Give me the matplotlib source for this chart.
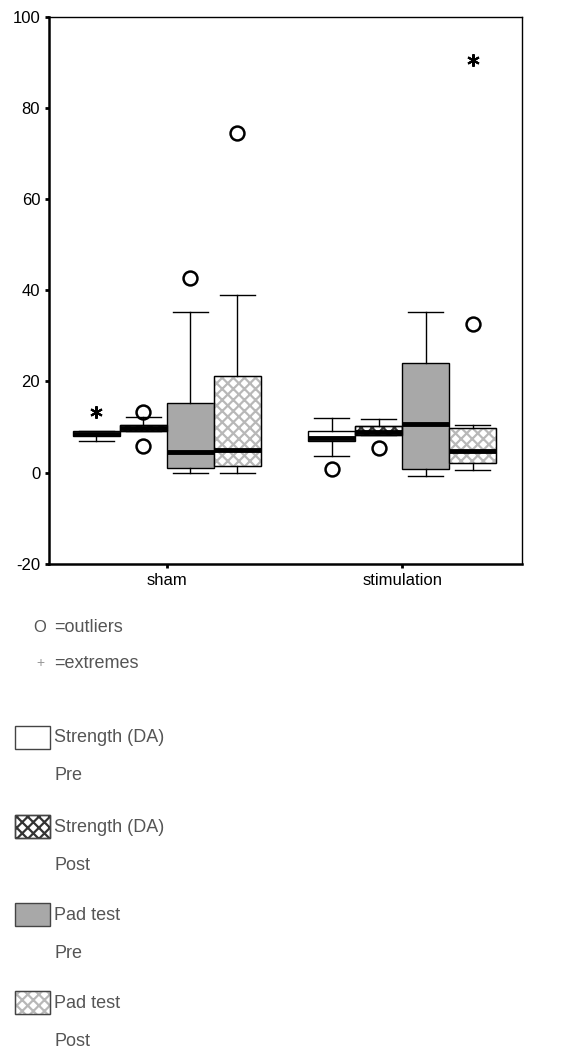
import numpy as np
import matplotlib
matplotlib.use("Agg")
from matplotlib import pyplot as plt
from matplotlib.patches import PathPatch, Rectangle

plt.rcParams['font.family'] = ['Liberation Sans', 'DejaVu Sans']
plt.rcParams['hatch.linewidth'] = 1.6
plt.rcParams['axes.unicode_minus'] = False

groups = ["sham", "stimulation"]
series = ["Strength (DA) Pre", "Strength (DA) Post", "Pad test Pre", "Pad test Post"]

# per group, per series: whislo, q1, med, q3, whishi
sham_stats = [
    [7.0, 8.1, 8.5, 9.1, 9.1],
    [9.1, 9.1, 9.8, 10.5, 12.3],
    [0.0, 1.0, 4.5, 15.3, 35.2],
    [0.0, 1.5, 5.0, 21.1, 38.9],
]
stim_stats = [
    [3.6, 6.9, 7.6, 9.1, 12.0],
    [8.3, 8.3, 9.0, 10.2, 11.8],
    [-0.8, 0.9, 10.7, 24.0, 35.2],
    [0.5, 2.1, 4.7, 9.9, 10.4],
]
sham_outliers = [[], [13.4, 5.8], [42.7], [74.5]]
stim_outliers = [[0.7], [5.5], [], [32.5]]
sham_extremes = [[13.2], [], [], []]
stim_extremes = [[], [], [], [90.6]]

offsets = [-0.3, -0.1, 0.1, 0.3]
width = 0.2

fig = plt.figure(figsize=(5.86, 10.48), dpi=100)
ax = fig.add_axes([0.084, 0.462, 0.807, 0.522])

stats = []
positions = []
extremes_x, extremes_y = [], []
for gi, (gstats, gout, gext) in enumerate([(sham_stats, sham_outliers, sham_extremes),
                                            (stim_stats, stim_outliers, stim_extremes)]):
    for si in range(4):
        lo, q1, med, q3, hi = gstats[si]
        stats.append(dict(whislo=lo, q1=q1, med=med, q3=q3, whishi=hi,
                          fliers=np.array(gout[si]), label=""))
        positions.append(gi + offsets[si])
        for v in gext[si]:
            extremes_x.append(gi + offsets[si])
            extremes_y.append(v)

bp = ax.bxp(stats, positions=positions, widths=width, patch_artist=True,
            capwidths=0.15,
            boxprops=dict(linewidth=1.0, edgecolor='black'),
            medianprops=dict(color='black', linewidth=3.5),
            whiskerprops=dict(color='black', linewidth=1.0),
            capprops=dict(color='black', linewidth=1.0),
            flierprops=dict(marker='o', markersize=10, markerfacecolor='none',
                            markeredgecolor='black', markeredgewidth=1.8))

fills = ['white', 'white', '#a8a8a8', 'white']
hatch_colors = [None, '#333333', None, '#b8b8b8']
for i, box in enumerate(bp['boxes']):
    si = i % 4
    box.set_facecolor(fills[si])
    if hatch_colors[si] is not None:
        box.set_edgecolor(hatch_colors[si])
        box.set_hatch('xxx')
        ax.add_patch(PathPatch(box.get_path(), fill=False, edgecolor='black',
                               linewidth=1.0, zorder=box.get_zorder() + 0.1))

ax.plot(extremes_x, extremes_y, linestyle='none', marker=(6, 2, 0),
        markersize=9, markeredgewidth=1.5, color='black')

ax.set_xlim(-0.5, 1.51)
ax.set_ylim(-20, 100)
ax.set_xticks([0, 1])
ax.set_xticklabels(groups, fontsize=12)
ax.set_yticks([-20, 0, 20, 40, 60, 80, 100])
ax.tick_params(axis='both', direction='out', length=3, width=2, labelsize=12)
for side in ['left', 'bottom']:
    ax.spines[side].set_linewidth(1.8)
for side in ['top', 'right']:
    ax.spines[side].set_linewidth(1.0)

# legend below the chart
W, H = 586.0, 1048.0
def fx(px):
    return px / W
def fy(py):
    return 1 - py / H

legend_color = '#555555'
fig.text(fx(40), fy(627), 'O', fontsize=12, color=legend_color, ha='center', va='center')
fig.text(fx(54), fy(627), '=outliers', fontsize=13, color=legend_color, va='center')
fig.text(fx(40), fy(663), '+', fontsize=10, color='#999999', ha='center', va='center')
fig.text(fx(54), fy(663), '=extremes', fontsize=13, color=legend_color, va='center')

legend_items = [
    ("Strength (DA)", "Pre", 'white', None, 726),
    ("Strength (DA)", "Post", 'white', '#333333', 815),
    ("Pad test", "Pre", '#a8a8a8', None, 903),
    ("Pad test", "Post", 'white', '#b8b8b8', 991),
]
for name, phase, fc, hc, top in legend_items:
    r = Rectangle((fx(15), fy(top + 23)), fx(50) - fx(15), 23 / H,
                  transform=fig.transFigure, facecolor=fc,
                  edgecolor=hc if hc else '#444444', linewidth=1.0,
                  hatch='xxx' if hc else None)
    fig.add_artist(r)
    if hc:
        fig.add_artist(Rectangle((fx(15), fy(top + 23)), fx(50) - fx(15), 23 / H,
                                 transform=fig.transFigure, fill=False,
                                 edgecolor='#444444', linewidth=1.0))
    fig.text(fx(54), fy(top + 12), name, fontsize=13, color=legend_color, va='center')
    fig.text(fx(54), fy(top + 50), phase, fontsize=13, color=legend_color, va='center')

fig.savefig("out.png", dpi=100)
